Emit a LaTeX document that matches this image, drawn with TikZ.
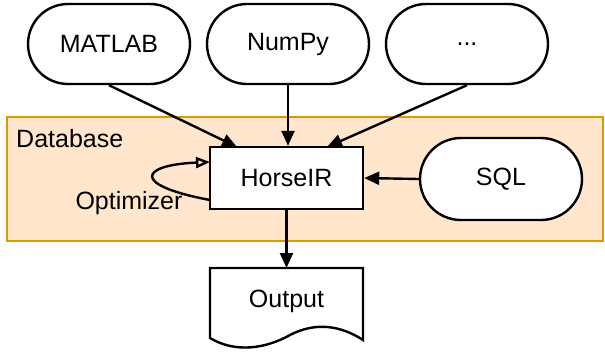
\documentclass[tikz,border=0pt]{standalone}
\usepackage{fontspec}
\setmainfont{Liberation Sans}
\usetikzlibrary{arrows.meta,shapes.misc}
\definecolor{dbfill}{HTML}{FFE6CC}
\definecolor{dbline}{HTML}{D79B00}
\tikzset{
  lang/.style={draw=black, line width=2.4pt, fill=white, rounded rectangle,
    minimum width=162pt, minimum height=80pt, inner sep=0pt, font=\fontsize{25}{30}\selectfont},
  irbox/.style={draw=black, line width=2.4pt, fill=white, rectangle,
    minimum width=153pt, minimum height=62pt, inner sep=0pt, font=\fontsize{25}{30}\selectfont},
  lbl/.style={font=\fontsize{25}{30}\selectfont, inner sep=0pt},
  conn/.style={line width=2.4pt, -{Triangle[length=15pt,width=13pt]}},
  loopconn/.style={line width=2.4pt, -{Triangle[open,length=14pt,width=11pt]}},
}
\begin{document}
\begin{tikzpicture}[x=1pt,y=-1pt]
\useasboundingbox (0,0) rectangle (605,354);
% database container
\node[draw=dbline, fill=dbfill, line width=2.2pt, rectangle, minimum width=596pt, minimum height=124pt, inner sep=0pt, anchor=north west] (db) at (6,116) {};
\node[lbl, anchor=west] (dbl) at (16,139) {Database};
% language nodes
\node[lang] (matlab) at (109,44) {MATLAB};
\node[lang] (numpy) at (288,44) {NumPy};
\node[lang] (dots) at (467,44) {...};
% HorseIR
\node[irbox] (hir) at (286.5,178) {HorseIR};
\node[lang, minimum width=162pt, minimum height=82pt] (sql) at (501,179) {SQL};
% Output document
\coordinate (otl) at (210,268);
\coordinate (otr) at (363,268);
\draw[line width=2.4pt, fill=white] (otl) -- (otr) -- (363,340)
  .. controls (340,325) and (315,322) .. (290,335)
  .. controls (265,349) and (235,353) .. (210,338) -- cycle;
\node[lbl] (out) at (286.5,301) {Output};
\coordinate (outtop) at (286.5,268);
% connectors
\draw[conn] (matlab.south) -- (237,147) coordinate (mt);
\draw[conn] (numpy.south) -- (hir.north -| numpy.south);
\draw[conn] (dots.south) -- (327,147) coordinate (dt);
\draw[conn] (sql.west) -- (hir.east);
\draw[conn] (hir.south) -- (outtop);
% optimizer loop
\coordinate (lo1) at (210,200);
\coordinate (lo2) at (210,162);
\draw[loopconn] (lo1) .. controls (130,185) and (140,165) .. (lo2);
\node[lbl] (opt) at (129,203) {Optimizer};
\end{tikzpicture}
\end{document}
